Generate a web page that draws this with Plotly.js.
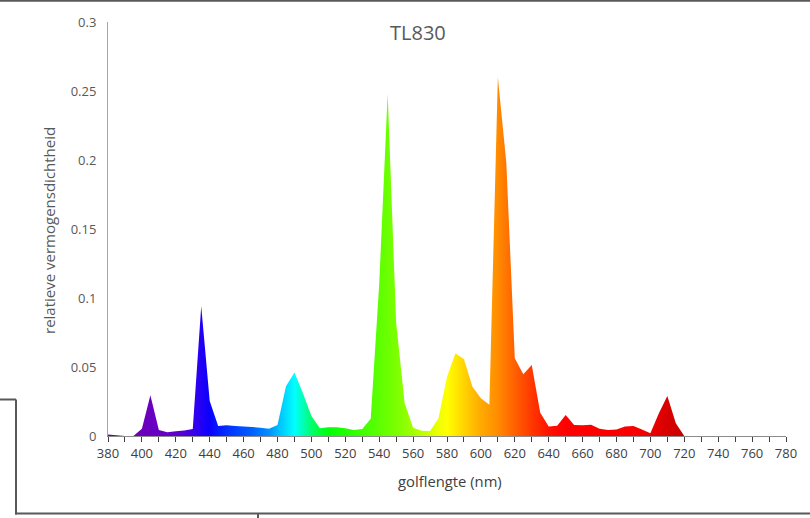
<!DOCTYPE html>
<html>
<head>
<meta charset="utf-8">
<script src="https://cdn.plot.ly/plotly-3.0.1.min.js"></script>
<style>
  html, body { margin: 0; padding: 0; background: #ffffff; }
  #chart { width: 810px; height: 518px; }
</style>
</head>
<body>
<div id="chart"></div>
<script>
// Golflengte (nm), stap van 5 nm
const golflengte = [
  380, 385, 390, 395, 400, 405, 410, 415, 420, 425,
  430, 435, 440, 445, 450, 455, 460, 465, 470, 475,
  480, 485, 490, 495, 500, 505, 510, 515, 520, 525,
  530, 535, 540, 545, 550, 555, 560, 565, 570, 575,
  580, 585, 590, 595, 600, 605, 610, 615, 620, 625,
  630, 635, 640, 645, 650, 655, 660, 665, 670, 675,
  680, 685, 690, 695, 700, 705, 710, 715, 720, 725,
  730, 735, 740, 745, 750, 755, 760, 765, 770, 775,
  780
];

// Relatieve vermogensdichtheid van een TL830 lamp
const vermogen = [
  0.0010, 0.0005, 0.0000, 0.0000, 0.0053, 0.0295, 0.0043, 0.0027, 0.0034, 0.0039,
  0.0050, 0.0940, 0.0254, 0.0072, 0.0077, 0.0072, 0.0068, 0.0065, 0.0060, 0.0053,
  0.0080, 0.0360, 0.0460, 0.0310, 0.0145, 0.0056, 0.0063, 0.0063, 0.0056, 0.0043,
  0.0050, 0.0125, 0.1100, 0.2480, 0.0820, 0.0240, 0.0060, 0.0038, 0.0036, 0.0128,
  0.0430, 0.0600, 0.0556, 0.0357, 0.0273, 0.0227, 0.2600, 0.1980, 0.0563, 0.0447,
  0.0514, 0.0169, 0.0068, 0.0075, 0.0152, 0.0080, 0.0077, 0.0082, 0.0053, 0.0043,
  0.0048, 0.0068, 0.0072, 0.0048, 0.0020, 0.0165, 0.0290, 0.0092, 0.0000, 0.0000,
  0.0000, 0.0000, 0.0000, 0.0000, 0.0000, 0.0000, 0.0000, 0.0000, 0.0000, 0.0000,
  0.0000
];

// Spectrumkleuren per golflengte voor de vulling
const kleurGolflengte = [380, 400, 415, 425, 432, 440, 450, 465, 475, 482, 490, 495, 500, 505, 510, 530, 545, 555, 565, 575, 580, 590, 600, 610, 620, 630, 640, 650, 690, 700, 710, 720, 780];
const kleurWaarde = [
  '#6a00b0', '#6c00bc', '#6400c8', '#5400d8', '#3000f0', '#0a00ff', '#0030ff', '#0060ff', '#0090ff', '#00c8ff',
  '#00ffff', '#00ffb8', '#00ff70', '#00ff38', '#00ff08', '#40ff00', '#6cff00', '#8cff00', '#bcff00', '#eeff00',
  '#ffff00', '#ffd400', '#ffaa00', '#ff8c00', '#ff6000', '#ff3800', '#ff1200', '#ff0000', '#fa0000', '#ee0000',
  '#d80000', '#c80000', '#c00000'
];

const xmin = 380, xmax = 780;
const colorscale = kleurGolflengte.map((w, i) => [(w - xmin) / (xmax - xmin), kleurWaarde[i]]);

const trace = {
  type: 'scatter',
  x: golflengte,
  y: vermogen,
  mode: 'none',
  fill: 'tozeroy',
  fillcolor: '#ff8000',
  fillgradient: {
    type: 'horizontal',
    start: xmin,
    stop: xmax,
    colorscale: colorscale
  },
  hoverinfo: 'x+y',
  showlegend: false
};

// Plotgebied in pixels
const W = 810, H = 518;
const M = { l: 108, r: 24, t: 22, b: 82 };
const pw = W - M.l - M.r, ph = H - M.t - M.b;
const px = v => (v - M.l) / pw;
const py = v => (H - M.b - v) / ph;

const kader = '#595959';
const lijn = (x0, y0, x1, y1) => ({
  type: 'line', xref: 'paper', yref: 'paper',
  x0: px(x0), y0: py(y0), x1: px(x1), y1: py(y1),
  line: { color: kader, width: 2 }, layer: 'above'
});

const layout = {
  width: W,
  height: H,
  margin: M,
  paper_bgcolor: '#ffffff',
  plot_bgcolor: '#ffffff',
  font: { family: '"Open Sans", "Noto Sans", sans-serif', color: '#595959', size: 13 },
  showlegend: false,
  xaxis: {
    range: [xmin, xmax],
    tick0: 380,
    dtick: 20,
    ticks: 'outside',
    ticklen: 5,
    tickwidth: 1,
    tickcolor: '#404040',
    minor: { dtick: 10, ticks: 'outside', ticklen: 5, tickwidth: 1, tickcolor: '#404040' },
    showline: true,
    linecolor: '#8c8c8c',
    linewidth: 1,
    showgrid: false,
    zeroline: false,
    tickfont: { size: 13, color: '#404040' },
    fixedrange: true
  },
  yaxis: {
    range: [0, 0.3],
    dtick: 0.05,
    ticks: 'outside',
    ticklen: 8,
    tickcolor: 'rgba(0,0,0,0)',
    showline: true,
    linecolor: '#a6a6a6',
    linewidth: 1,
    showgrid: false,
    zeroline: false,
    tickfont: { size: 13, color: '#595959' },
    fixedrange: true
  },
  annotations: [
    {
      text: 'TL830', xref: 'paper', yref: 'paper',
      x: px(418), y: py(32), xanchor: 'center', yanchor: 'middle',
      showarrow: false, font: { size: 20, color: '#595959' }
    },
    {
      text: 'golflengte (nm)', xref: 'paper', yref: 'paper',
      x: px(450), y: py(481), xanchor: 'center', yanchor: 'middle',
      showarrow: false, font: { size: 14.8, color: '#404040' }
    },
    {
      text: 'relatieve vermogensdichtheid', xref: 'paper', yref: 'paper',
      x: px(49), y: py(230), xanchor: 'center', yanchor: 'middle', textangle: -90,
      showarrow: false, font: { size: 15, color: '#595959' }
    }
  ],
  shapes: [
    lijn(0, 0.8, 810, 0.8),
    lijn(0, 399.5, 16, 399.5),
    lijn(16, 399.5, 16, 514.5),
    lijn(15, 513.5, 810, 513.5),
    lijn(258, 513, 258, 518)
  ]
};

Plotly.newPlot('chart', [trace], layout, { displayModeBar: false, staticPlot: true });
</script>
</body>
</html>
